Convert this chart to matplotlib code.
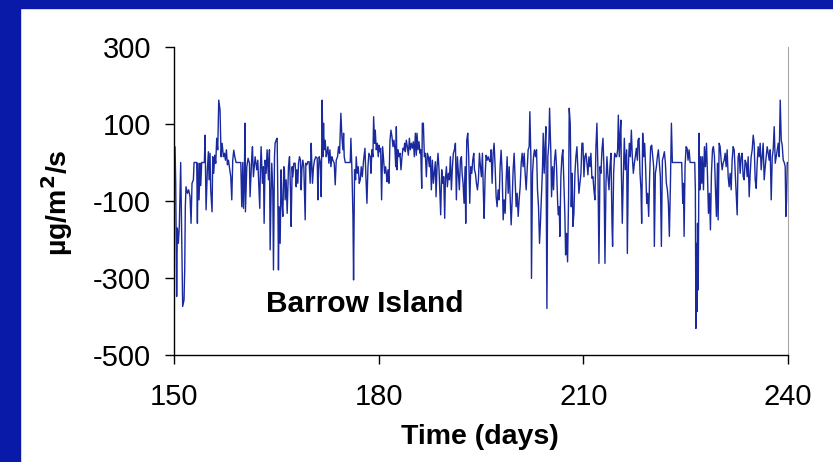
import matplotlib
matplotlib.use("Agg")
import matplotlib.pyplot as plt
from matplotlib.patches import Rectangle

# flux readings (day of year, ug/m2/s)
day = [
    150.00, 150.15, 150.25, 150.39, 150.49, 150.64, 150.78, 150.98,
    151.13, 151.27, 151.47, 151.57, 151.66, 151.76, 151.96, 152.15,
    152.35, 152.50, 152.64, 152.84, 152.94, 153.13, 153.33, 153.43,
    153.52, 153.67, 153.82, 153.92, 154.06, 154.31, 154.45, 154.55,
    154.70, 154.89, 155.04, 155.14, 155.28, 155.38, 155.58, 155.68,
    155.82, 155.97, 156.12, 156.26, 156.41, 156.56, 156.75, 156.90,
    157.05, 157.24, 157.39, 157.54, 157.68, 157.83, 157.98, 158.12,
    158.32, 158.47, 158.61, 158.76, 158.91, 159.10, 159.44, 159.79,
    159.93, 160.08, 160.18, 160.32, 160.40, 160.47, 160.67, 160.86,
    161.06, 161.15, 161.40, 161.50, 161.64, 161.89, 162.13, 162.28,
    162.57, 162.67, 162.77, 162.96, 163.11, 163.21, 163.36, 163.50,
    163.65, 163.85, 163.99, 164.09, 164.24, 164.33, 164.48, 164.58,
    164.73, 164.82, 164.97, 165.12, 165.21, 165.31, 165.41, 165.56,
    165.70, 165.80, 165.95, 166.10, 166.19, 166.29, 166.44, 166.59,
    166.78, 166.93, 167.07, 167.17, 167.32, 167.42, 167.56, 167.76,
    167.91, 168.00, 168.15, 168.25, 168.40, 168.54, 168.64, 168.74,
    168.88, 169.03, 169.23, 169.33, 169.47, 169.62, 169.81, 169.96,
    170.11, 170.21, 170.30, 170.45, 170.60, 170.79, 170.99, 171.09,
    171.18, 171.28, 171.43, 171.58, 171.67, 171.72, 171.82, 171.92,
    172.02, 172.16, 172.31, 172.41, 172.56, 172.70, 172.85, 173.00,
    173.14, 173.29, 173.49, 173.63, 173.78, 173.97, 174.12, 174.27,
    174.46, 174.61, 174.76, 174.86, 174.95, 175.10, 175.34, 175.59,
    175.83, 175.93, 176.08, 176.23, 176.32, 176.47, 176.62, 176.71,
    176.86, 177.01, 177.15, 177.30, 177.45, 177.60, 177.79, 177.99,
    178.13, 178.28, 178.43, 178.57, 178.77, 178.87, 179.01, 179.16,
    179.26, 179.41, 179.50, 179.65, 179.80, 179.94, 180.04, 180.14,
    180.29, 180.43, 180.58, 180.73, 180.87, 181.02, 181.12, 181.22,
    181.36, 181.51, 181.66, 181.80, 181.95, 182.10, 182.24, 182.39,
    182.50, 182.59, 182.68, 182.83, 182.98, 183.12, 183.27, 183.42,
    183.57, 183.71, 183.81, 183.91, 184.05, 184.20, 184.35, 184.50,
    184.64, 184.79, 184.94, 185.08, 185.23, 185.38, 185.52, 185.62,
    185.77, 185.91, 186.06, 186.16, 186.31, 186.40, 186.55, 186.70,
    186.84, 186.99, 187.14, 187.28, 187.43, 187.58, 187.72, 187.87,
    188.02, 188.16, 188.31, 188.41, 188.56, 188.70, 188.85, 188.95,
    189.09, 189.24, 189.39, 189.53, 189.68, 189.78, 189.93, 190.07,
    190.22, 190.37, 190.51, 190.66, 190.81, 190.95, 191.10, 191.25,
    191.39, 191.54, 191.69, 191.83, 191.98, 192.13, 192.23, 192.37,
    192.52, 192.67, 192.76, 192.91, 193.06, 193.20, 193.35, 193.50,
    193.65, 193.79, 193.94, 194.04, 194.18, 194.33, 194.48, 194.62,
    194.77, 194.92, 195.06, 195.21, 195.36, 195.46, 195.60, 195.75,
    195.90, 196.04, 196.19, 196.34, 196.48, 196.63, 196.78, 196.92,
    197.07, 197.22, 197.36, 197.51, 197.66, 197.80, 197.95, 198.10,
    198.25, 198.39, 198.54, 198.69, 198.83, 198.98, 199.13, 199.27,
    199.42, 199.57, 199.71, 199.86, 200.01, 200.15, 200.30, 200.45,
    200.59, 200.74, 200.89, 201.03, 201.18, 201.33, 201.47, 201.62,
    201.77, 201.91, 202.06, 202.16, 202.31, 202.40, 202.55, 202.70,
    202.84, 202.99, 203.14, 203.28, 203.43, 203.58, 203.73, 203.87,
    204.02, 204.12, 204.26, 204.41, 204.51, 204.66, 204.80, 204.95,
    205.05, 205.24, 205.34, 205.49, 205.63, 205.78, 205.93, 206.07,
    206.22, 206.32, 206.47, 206.56, 206.71, 206.86, 207.00, 207.15,
    207.30, 207.40, 207.54, 207.69, 207.84, 207.93, 208.08, 208.23,
    208.37, 208.47, 208.62, 208.77, 208.91, 209.06, 209.21, 209.35,
    209.50, 209.65, 209.79, 209.94, 210.09, 210.23, 210.38, 210.53,
    210.67, 210.82, 210.97, 211.11, 211.26, 211.41, 211.55, 211.70,
    211.85, 211.99, 212.14, 212.29, 212.44, 212.58, 212.73, 212.88,
    213.02, 213.17, 213.32, 213.46, 213.61, 213.76, 213.90, 214.05,
    214.20, 214.29, 214.44, 214.59, 214.74, 214.88, 215.03, 215.13,
    215.27, 215.42, 215.50, 215.57, 215.71, 215.86, 216.01, 216.15,
    216.35, 216.45, 216.60, 216.74, 216.89, 217.04, 217.18, 217.33,
    217.48, 217.62, 217.77, 217.92, 218.01, 218.16, 218.31, 218.45,
    218.55, 218.70, 218.85, 218.99, 219.14, 219.29, 219.43, 219.58,
    219.73, 219.87, 220.02, 220.17, 220.31, 220.41, 220.56, 220.71,
    220.85, 221.00, 221.15, 221.29, 221.44, 221.59, 221.73, 221.88,
    222.03, 222.17, 222.32, 222.47, 222.61, 222.76, 222.91, 223.05,
    223.30, 223.54, 223.79, 224.03, 224.28, 224.42, 224.57, 224.67,
    224.77, 224.91, 225.06, 225.21, 225.35, 225.50, 225.65, 225.89,
    226.14, 226.33, 226.42, 226.50, 226.58, 226.66, 226.74, 226.84,
    226.97, 227.07, 227.21, 227.36, 227.46, 227.61, 227.75, 227.90,
    228.05, 228.19, 228.34, 228.49, 228.63, 228.78, 228.93, 229.07,
    229.22, 229.37, 229.51, 229.66, 229.76, 229.91, 230.05, 230.20,
    230.35, 230.49, 230.64, 230.79, 230.93, 231.08, 231.23, 231.37,
    231.52, 231.67, 231.81, 231.96, 232.11, 232.25, 232.40, 232.55,
    232.69, 232.84, 232.99, 233.13, 233.28, 233.43, 233.57, 233.72,
    233.87, 234.02, 234.16, 234.31, 234.46, 234.60, 234.75, 234.90,
    235.04, 235.19, 235.34, 235.48, 235.63, 235.78, 235.92, 236.07,
    236.22, 236.36, 236.51, 236.66, 236.80, 236.95, 237.10, 237.24,
    237.39, 237.54, 237.69, 237.83, 237.98, 238.13, 238.27, 238.42,
    238.57, 238.71, 238.86, 239.01, 239.15, 239.30, 239.45, 239.59,
    239.69, 239.79, 239.89, 240.00,
]

flux = [
    -10, 41, -54, -348, -170, -210, -165, 0,
    -200, -374, -357, -279, -115, -63, -80, -71,
    -89, -158, -54, -45, 0, 0, 0, -158,
    -2, -97, -2, -60, 0, 0, 0, 71,
    -123, -19, 28, -45, 24, -71, -128, 15,
    -28, 19, -2, 63, 33, 162, 136, 15,
    50, 15, 24, 6, 33, -6, 6, -11,
    -37, -97, 6, 32, 15, 0, 0, 0,
    -115, 0, -119, -28, 102, -128, -11, 11,
    -2, -89, 15, 41, -37, 15, -19, 6,
    -119, -11, 41, -54, -11, -158, 6, -28,
    33, -45, 33, -227, -71, -2, -71, -279,
    15, 50, 58, 63, -71, -279, -115, -210,
    -19, -97, -140, -11, -19, -97, -45, -132,
    -11, 15, -71, -166, -11, -37, -2, -2,
    -63, -19, -54, -2, 15, 6, -71, -19,
    6, -11, -149, -2, -6, 2, 2, -54,
    50, -11, -54, -11, 6, 15, 11, -97,
    -19, 15, 2, -89, 93, 162, 15, 102,
    33, 58, 15, 24, 41, -2, 33, -11,
    15, 6, -2, -58, 6, 15, 41, 24,
    128, 67, 33, 76, 15, 0, 0, 0,
    0, 63, -19, -140, -305, -19, -45, 15,
    -28, -11, -54, -45, -11, -37, 6, 37,
    -37, -106, -11, 24, 15, -28, 33, 15,
    119, 50, 84, 33, 50, 15, 45, 28,
    37, -97, 41, 6, -28, -11, -28, -50,
    -19, -54, 58, 84, 67, 41, 58, 33,
    -11, 93, -19, 33, 15, 24, -19, 15,
    37, 33, 50, 28, 58, 41, 19, 63,
    33, 50, 37, 54, 15, 76, 19, 76,
    33, 54, 24, 33, -67, 102, 102, 15,
    24, -37, 24, 15, -11, 15, -71, 6,
    -54, -28, 2, -89, -11, 24, -19, -71,
    -136, -19, -54, -37, -145, -45, -11, -63,
    -28, -45, 15, -71, -11, 24, 33, 50,
    -97, 15, -28, -71, 6, 15, -28, -54,
    -106, -11, -158, 58, 76, 15, -106, -11,
    -28, 6, 24, -19, -28, -54, -71, -45,
    24, -11, -37, 24, -89, -145, -37, 19,
    6, 15, 6, 2, 33, -54, 24, 50,
    -11, -89, -115, -71, -97, -11, 32, -28,
    -149, -97, -132, -45, 15, -80, -11, -89,
    -162, -97, -19, 24, -45, -115, -80, -140,
    -97, -63, -2, 24, -11, 24, -28, -71,
    -19, 33, 41, 132, 15, -301, -28, 15,
    33, 15, 33, -71, -115, -210, -149, -80,
    -11, 76, -28, 50, 93, -379, 15, 50,
    141, 24, -89, -11, -71, 6, 33, -11,
    -97, -136, -115, -192, -37, 15, 33, -54,
    -140, -240, -184, -258, -89, 141, 102, -115,
    -28, -166, -132, -28, 15, 41, -19, -80,
    -54, -28, 50, 50, -37, 15, 24, -2,
    -32, 15, -11, 24, -41, -37, -71, -97,
    41, 102, -19, -262, -11, -28, 33, 63,
    -11, -262, -54, 15, -37, -71, -11, 24,
    -158, -218, -28, 24, 15, 15, 33, 123,
    15, 84, 110, -19, -158, -37, 63, -19,
    33, -236, -11, 50, 15, 84, 15, -28,
    -2, 15, 37, 6, 58, 63, -28, -71,
    -158, 76, 15, 50, -19, -106, -80, -140,
    -28, 41, 45, 15, -11, -218, -28, -11,
    15, 33, -2, -37, -218, 6, 15, 28,
    -2, -54, -71, -106, -192, -63, 102, 0,
    0, 0, 0, 0, 0, 0, -106, -54,
    -192, -11, 41, 37, 6, 33, 0, 0,
    0, 0, -71, -431, -210, -387, -158, -331,
    76, -71, 15, -54, 15, -71, 41, -11,
    50, -28, -132, -80, -175, -28, 33, 41,
    15, -71, -140, -2, -149, 50, 41, 6,
    -19, -2, 6, 24, -11, 33, -37, -63,
    -28, -71, 6, 41, 33, -19, -71, -136,
    15, 24, -28, 15, 24, -37, -45, 6,
    -2, -37, 15, -89, -28, 15, 33, 71,
    50, -45, -67, -2, 41, 15, 50, -19,
    15, 50, -45, -11, 15, 41, 24, 6,
    33, -97, 15, 33, 93, -2, 15, 33,
    50, 15, 162, 58, 45, 6, 0, -11,
    -140, -97, 0, 0,
]

x_ticks = [150, 180, 210, 240]
y_ticks = [-500, -300, -100, 100, 300]

blue = "#0a1aa8"
line_blue = "#1a2a9e"

plt.rcParams["font.family"] = ["Liberation Sans", "DejaVu Sans"]
plt.rcParams["axes.unicode_minus"] = False  # plain hyphen like the original

fig = plt.figure(figsize=(8.33, 4.62), dpi=100)
fig.patch.set_facecolor("white")

# slide frame: blue strip on the left and on top
fig.patches.append(Rectangle((0, 0), 20 / 833, 1, transform=fig.transFigure,
                             color=blue, zorder=0))
fig.patches.append(Rectangle((0, 1 - 8 / 462), 1, 8 / 462, transform=fig.transFigure,
                             color=blue, zorder=0))

ax = fig.add_axes([174 / 833, 1 - 355 / 462, (788 - 174) / 833, (355 - 47) / 462])
ax.plot(day, flux, color=line_blue, lw=1.0)

ax.set_xlim(150, 240)
ax.set_ylim(-500, 300)
ax.set_xticks(x_ticks)
ax.set_yticks(y_ticks)
ax.tick_params(axis="both", direction="out", length=6.5, width=1, labelsize=21)
ax.tick_params(axis="y", pad=10)
ax.tick_params(axis="x", pad=14)

ax.spines["top"].set_visible(False)
ax.spines["right"].set_color("#a6a6a6")
ax.spines["left"].set_linewidth(1)
ax.spines["bottom"].set_linewidth(1)

ax.text(0.15, 0.166, "Barrow Island", transform=ax.transAxes,
        fontsize=21.5, fontweight="bold", ha="left", va="center")

fig.text(57 / 833, 1 - 203 / 462, "\u00b5g/m$^\\mathbf{2}$/s", rotation=90,
         fontsize=20.5, fontweight="bold", ha="center", va="center")
fig.text(480 / 833, 1 - 437 / 462, "Time (days)",
         fontsize=20.5, fontweight="bold", ha="center", va="center")

fig.savefig("out.png", dpi=100)
